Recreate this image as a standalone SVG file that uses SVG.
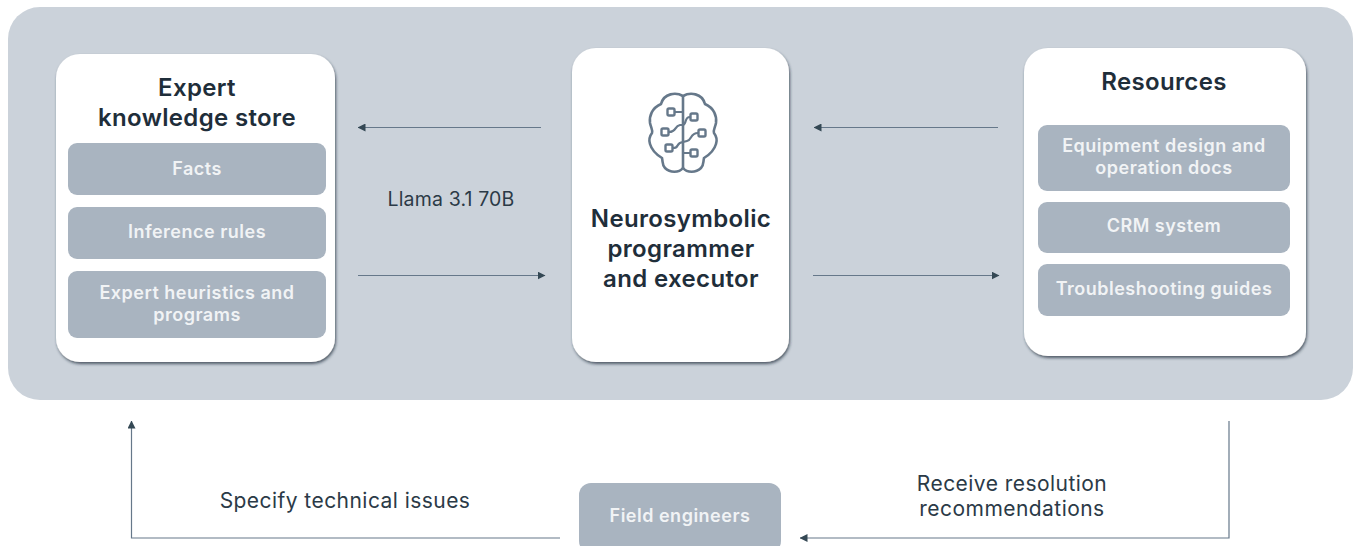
<svg xmlns="http://www.w3.org/2000/svg" width="1353" height="546" viewBox="0 0 1353 546">
<style>
text{font-family:"Inter","Noto Sans","Liberation Sans",sans-serif;text-anchor:middle}
.card{fill:#fff;filter:url(#sh)}
.sub{fill:#a9b4c0}
.subt{fill:#f1f3f5;font-size:18px;font-weight:600;letter-spacing:.5px}
.title{fill:#1f2e3a;font-size:24px;font-weight:600;letter-spacing:.35px}
.lab{fill:#2b3a47;font-size:21px;letter-spacing:.45px}
.ln{fill:none;stroke:#66788a;stroke-width:1.2;marker-end:url(#ah)}
.br{fill:none;stroke:#66788a;stroke-width:2.600}
.brl{fill:none;stroke:#66788a;stroke-width:2.200}
.brn{fill:#fff;stroke:#66788a;stroke-width:2.400}
</style>
<defs>
<filter id="sh" x="-10%" y="-10%" width="120%" height="120%"><feDropShadow dx="1" dy="2" stdDeviation="1.500" flood-color="#1c2b39" flood-opacity=".7"/></filter>
<marker id="ah" markerWidth="8" markerHeight="8" refX="7.500" refY="4" orient="auto" markerUnits="userSpaceOnUse"><path d="M0 0L8 4L0 8Z" fill="#344854"/></marker>
</defs>
<rect x="8" y="7" width="1345" height="393" rx="32" fill="#cbd2da"/>
<g id="connectors">
<path class="ln" d="M541 127.500H358"/>
<path class="ln" d="M358 275.500H545"/>
<path class="ln" d="M998 127.500H814"/>
<path class="ln" d="M813 275.500H999"/>
<path class="ln" d="M560 538H131.500V421"/>
<path class="ln" d="M1229 421V538H800"/>
</g>
<g id="expert-store">
<rect class="card" x="56" y="54" width="279" height="308" rx="24"/>
<text class="title" x="197" y="96">Expert</text>
<text class="title" x="197" y="126">knowledge store</text>
<rect class="sub" x="68" y="143" width="258" height="52" rx="9"/>
<text class="subt" x="197" y="175">Facts</text>
<rect class="sub" x="68" y="207" width="258" height="52" rx="9"/>
<text class="subt" x="197" y="238">Inference rules</text>
<rect class="sub" x="68" y="271" width="258" height="67" rx="9"/>
<text class="subt" x="197" y="299">Expert heuristics and</text>
<text class="subt" x="197" y="321">programs</text>
</g>
<g id="programmer">
<rect class="card" x="572" y="48" width="217" height="314" rx="24"/>
<g id="brain-icon">
<path class="br" d="M683 96C676 92 664 93 661 104C652 108 649 116 650 123C651 128 653 130 652 133C649 137 649 141 650 144C652 151 657 155 662 158C663 162 662 165 665 168C670 173 679 173 683 168C687 173 696 173 701 168C704 165 703 162 704 158C709 155 714 151 716 144C717 141 717 137 714 133C713 130 715 128 716 123C717 116 714 108 705 104C702 93 690 92 683 96Z"/>
<path class="br" d="M683 96V168"/>
<path class="brl" d="M675 112H683M690 117C684 117 687 124 683 125H680C674 126 677 132 669 132M698 133C690 133 692 140 687 141L683 142C675 143 680 148 673 148M683 153H690"/>
<rect class="brn" x="667.500" y="108.500" width="7" height="7" rx="1.500"/>
<rect class="brn" x="690.500" y="113.500" width="7" height="7" rx="1.500"/>
<rect class="brn" x="661.500" y="128.500" width="7" height="7" rx="1.500"/>
<rect class="brn" x="698.500" y="129.500" width="7" height="7" rx="1.500"/>
<rect class="brn" x="665.500" y="144.500" width="7" height="7" rx="1.500"/>
<rect class="brn" x="690.500" y="149.500" width="7" height="7" rx="1.500"/>
</g>
<text class="title" x="681" y="227">Neurosymbolic</text>
<text class="title" x="681" y="257">programmer</text>
<text class="title" x="681" y="287">and executor</text>
</g>
<g id="resources">
<rect class="card" x="1024" y="48" width="282" height="308" rx="24"/>
<text class="title" x="1164" y="90">Resources</text>
<rect class="sub" x="1038" y="125" width="252" height="66" rx="9"/>
<text class="subt" x="1164" y="152">Equipment design and</text>
<text class="subt" x="1164" y="174">operation docs</text>
<rect class="sub" x="1038" y="202" width="252" height="51" rx="9"/>
<text class="subt" x="1164" y="232">CRM system</text>
<rect class="sub" x="1038" y="264" width="252" height="52" rx="9"/>
<text class="subt" x="1164" y="295">Troubleshooting guides</text>
</g>
<text class="lab" x="451" y="206" style="font-size:19.500px;letter-spacing:.15px">Llama 3.1 70B</text>
<text class="lab" x="345" y="508">Specify technical issues</text>
<text class="lab" x="1012" y="491">Receive resolution</text>
<text class="lab" x="1012" y="516">recommendations</text>
<g id="field-engineers">
<rect class="sub" x="579" y="483" width="202" height="70" rx="12"/>
<text class="subt" x="680" y="522">Field engineers</text>
</g>
</svg>
